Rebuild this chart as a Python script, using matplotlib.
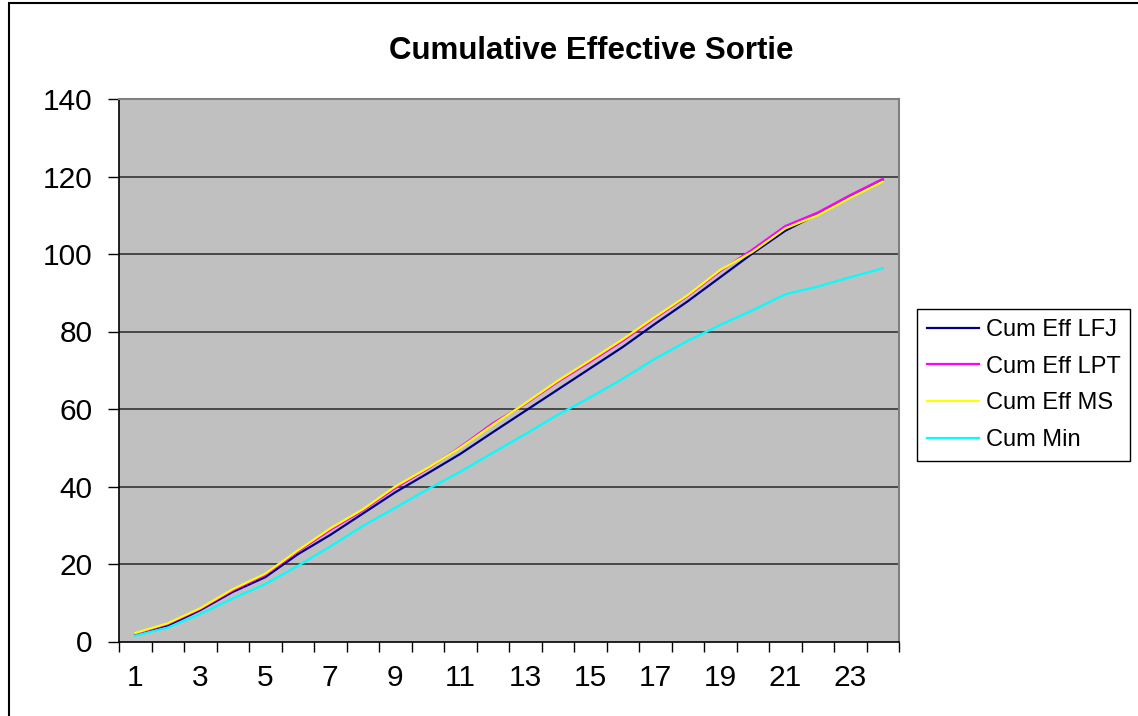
import matplotlib.pyplot as plt
from matplotlib.patches import Rectangle

# Данные
days = list(range(1, 25))
cum_eff_lfj = [2.0, 4.1, 8.1, 12.8, 16.6, 22.5, 27.5, 33.0, 38.5, 43.4, 48.4, 54.0,
               59.5, 65.0, 70.5, 76.0, 82.0, 87.8, 94.0, 100.2, 106.0, 110.3, 115.0, 119.0]
cum_eff_lpt = [2.0, 4.5, 8.4, 13.2, 17.2, 23.2, 28.8, 33.8, 39.6, 44.6, 50.2, 56.3,
               61.3, 67.0, 72.2, 77.6, 83.5, 89.2, 95.6, 101.2, 107.2, 110.7, 115.2, 119.4]
cum_eff_ms = [2.2, 4.7, 8.6, 13.5, 17.5, 23.5, 29.2, 34.1, 40.0, 44.8, 50.0, 55.9,
              61.5, 67.3, 72.6, 78.0, 83.8, 89.4, 95.9, 100.6, 106.6, 110.0, 114.5, 118.7]
cum_min = [1.5, 3.6, 7.1, 11.1, 14.8, 19.5, 24.5, 29.8, 34.5, 39.3, 43.8, 48.7,
           53.5, 58.5, 63.0, 67.8, 73.0, 77.6, 81.7, 85.5, 89.6, 91.6, 94.0, 96.3]
y_ticks = [0, 20, 40, 60, 80, 100, 120, 140]
x_labels = [1, 3, 5, 7, 9, 11, 13, 15, 17, 19, 21, 23]

plt.rcParams['font.family'] = ['Liberation Sans', 'DejaVu Sans']

fig = plt.figure(figsize=(11.38, 7.16), dpi=100)
fig.patches.append(Rectangle((9 / 1138, -0.1), 1.2, 1 - 3 / 716 + 0.1,
                             transform=fig.transFigure, fill=False,
                             edgecolor='black', linewidth=1.5))

ax = fig.add_axes([119 / 1138, (716 - 641.5) / 716, 780 / 1138, 542.5 / 716])
ax.set_facecolor('#C0C0C0')

ax.plot(days, cum_eff_lfj, color='#000080', lw=1.6, label='Cum Eff LFJ')
ax.plot(days, cum_eff_lpt, color='#FF00FF', lw=1.6, label='Cum Eff LPT')
ax.plot(days, cum_eff_ms, color='#FFFF00', lw=1.6, label='Cum Eff MS')
ax.plot(days, cum_min, color='#00FFFF', lw=1.6, label='Cum Min')

ax.set_xlim(0.5, 24.5)
ax.set_ylim(0, 140)

# сетка
for v in y_ticks[1:-1]:
    ax.axhline(v, color='#333333', lw=1.2, zorder=0.5)

ax.set_yticks(y_ticks)
ax.tick_params(axis='y', direction='out', length=8, width=1, pad=11, labelsize=21.5)

ax.set_xticks([i + 0.5 for i in range(0, 25)])
ax.set_xticklabels([])
ax.set_xticks(x_labels, minor=True)
ax.set_xticklabels([str(v) for v in x_labels], minor=True)
ax.tick_params(axis='x', which='major', direction='out', length=7, width=1)
ax.tick_params(axis='x', which='minor', length=0, pad=16, labelsize=21.5)

for s in ['top', 'right']:
    ax.spines[s].set_color('#808080')
    ax.spines[s].set_linewidth(1.5)
ax.spines['left'].set_color('black')
ax.spines['bottom'].set_color('black')
ax.spines['left'].set_linewidth(1.2)
ax.spines['bottom'].set_linewidth(1.2)

fig.text(591 / 1138, 1 - 51 / 716, 'Cumulative Effective Sortie',
         ha='center', va='center', fontsize=22.5, fontweight='bold')

leg = fig.legend(loc='upper left', bbox_to_anchor=(916.7 / 1138, 1 - 309 / 716),
                 fontsize=17, frameon=True, fancybox=False, borderaxespad=0,
                 handlelength=2.2, handletextpad=0.3, labelspacing=0.62,
                 borderpad=0.42)
leg.get_frame().set_edgecolor('black')
leg.get_frame().set_linewidth(1)
leg.get_frame().set_alpha(1)

plt.savefig('out.png', dpi=100)
